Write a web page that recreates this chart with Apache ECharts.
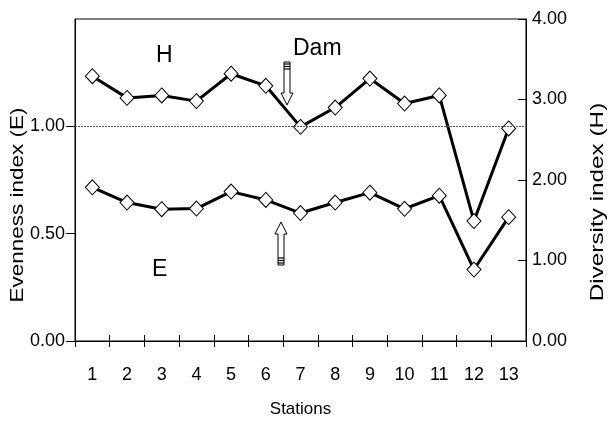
<!DOCTYPE html>
<html>
<head>
<meta charset="utf-8">
<script src="https://cdn.jsdelivr.net/npm/echarts@6/dist/echarts.min.js"></script>
<style>
	html, body { margin: 0; padding: 0; background: #fff; }
	#charts1 { width: 614px; height: 423px; }
</style>
</head>
<body>
<div id="charts1"></div>
<script>
	// stations along the river
	var stations = ['1', '2', '3', '4', '5', '6', '7', '8', '9', '10', '11', '12', '13'];
	// Shannon diversity index (right axis)
	var diversityH = [3.29, 3.02, 3.05, 2.98, 3.32, 3.17, 2.66, 2.90, 3.26, 2.95, 3.05, 1.49, 2.64];
	// evenness index (left axis)
	var evennessE = [0.716, 0.645, 0.614, 0.617, 0.696, 0.657, 0.596, 0.645, 0.691, 0.616, 0.677, 0.333, 0.577];
	var leftTicks = [0, 0.5, 1];
	var rightTicks = [0, 1, 2, 3, 4];

	var font = '"Liberation Sans", Arial, sans-serif';

	// hollow arrow outline, tip down (or up)
	function arrowPath(cx, top, bottom, up) {
		var s = 3, h = 6, head = 12;
		if (!up) {
			return [[cx - s, top], [cx + s, top], [cx + s, bottom - head], [cx + h, bottom - head],
				[cx, bottom], [cx - h, bottom - head], [cx - s, bottom - head]];
		}
		return [[cx - s, bottom], [cx + s, bottom], [cx + s, top + head], [cx + h, top + head],
			[cx, top], [cx - h, top + head], [cx - s, top + head]];
	}

	function stripes(cx, y0, dir) {
		var out = [];
		for (var i = 0; i < 3; i++) {
			var y = y0 + dir * i * 2.5;
			out.push({
				type: 'line', silent: true,
				shape: {x1: cx - 3, y1: y, x2: cx + 3, y2: y},
				style: {stroke: '#000', lineWidth: 1.2}
			});
		}
		return out;
	}

	var charts1 = echarts.init(document.getElementById('charts1'));

	var graphics = [
		{type: 'text', left: 156, top: 44, style: {text: 'H', font: '23px ' + font, fill: '#000'}},
		{type: 'text', left: 293, top: 37, style: {text: 'Dam', font: '23px ' + font, fill: '#000'}},
		{type: 'text', left: 152, top: 258, style: {text: 'E', font: '23px ' + font, fill: '#000'}},
		{type: 'polygon', silent: true, shape: {points: arrowPath(287, 62, 105, false)},
			style: {fill: '#fff', stroke: '#000', lineWidth: 1}},
		{type: 'polygon', silent: true, shape: {points: arrowPath(281, 222, 265, true)},
			style: {fill: '#fff', stroke: '#000', lineWidth: 1}},
		// axis titles, stretched along their length like the scanned figure
		{type: 'text', x: 18, y: 205, rotation: Math.PI / 2, scaleX: 1.25,
			style: {text: 'Evenness index (E)', font: '18px ' + font, fill: '#000', align: 'center', verticalAlign: 'middle'}},
		{type: 'text', x: 598, y: 202, rotation: Math.PI / 2, scaleX: 1.35,
			style: {text: 'Diversity index (H)', font: '18px ' + font, fill: '#000', align: 'center', verticalAlign: 'middle'}}
	];
	graphics = graphics.concat(stripes(287, 64, 1)).concat(stripes(281, 263, -1));

	var option = {
		animation: false,
		backgroundColor: '#fff',
		textStyle: {fontFamily: font},
		grid: {left: 75, right: 88, top: 19, bottom: 81, show: true, borderColor: '#000', borderWidth: 1},
		xAxis: [{
			type: 'category',
			data: stations,
			position: 'bottom',
			name: 'Stations',
			nameLocation: 'middle',
			nameGap: 60,
			nameTextStyle: {fontSize: 17, color: '#000', fontFamily: font},
			axisLine: {lineStyle: {color: '#000', width: 1}},
			axisTick: {show: true, length: 6, lineStyle: {color: '#000'}},
			axisLabel: {fontSize: 18, color: '#000', margin: 25, fontFamily: font},
			splitLine: {show: false}
		}, {
			type: 'category',
			data: stations,
			position: 'bottom',
			offset: 0,
			axisLine: {show: false},
			axisTick: {show: true, inside: true, length: 6, lineStyle: {color: '#000'}},
			axisLabel: {show: false},
			splitLine: {show: false}
		}],
		yAxis: [{
			type: 'value',
			position: 'left',
			min: 0,
			max: 1.5,
			interval: 0.5,
			axisLine: {show: true, lineStyle: {color: '#000'}},
			axisTick: {show: true, length: 9, customValues: leftTicks, lineStyle: {color: '#000'}},
			axisLabel: {
				fontSize: 18, color: '#000', margin: 10, fontFamily: font,
				customValues: leftTicks,
				formatter: function (v) { return v.toFixed(2); }
			},
			splitLine: {show: false}
		}, {
			type: 'value',
			position: 'right',
			min: 0,
			max: 4,
			interval: 1,
			axisLine: {show: true, lineStyle: {color: '#000'}},
			axisTick: {show: true, inside: true, length: 8, customValues: rightTicks, lineStyle: {color: '#000'}},
			axisLabel: {
				fontSize: 18, color: '#000', margin: 6, fontFamily: font,
				formatter: function (v) { return v.toFixed(2); }
			},
			splitLine: {show: false}
		}],
		series: [{
			name: 'H',
			type: 'line',
			yAxisIndex: 1,
			data: diversityH,
			symbol: 'diamond',
			symbolSize: [14, 15],
			showAllSymbol: true,
			lineStyle: {color: '#000', width: 3},
			itemStyle: {color: '#fff', borderColor: '#000', borderWidth: 1},
			z: 3
		}, {
			name: 'E',
			type: 'line',
			yAxisIndex: 0,
			data: evennessE,
			symbol: 'diamond',
			symbolSize: [14, 15],
			showAllSymbol: true,
			lineStyle: {color: '#000', width: 3},
			itemStyle: {color: '#fff', borderColor: '#000', borderWidth: 1},
			z: 3,
			markLine: {
				silent: true,
				symbol: 'none',
				label: {show: false},
				lineStyle: {color: '#555', type: [2, 1], width: 1},
				data: [{yAxis: 1}]
			}
		}],
		graphic: graphics
	};
	charts1.setOption(option);

	window.onresize = function () {
		charts1.resize();
	};
</script>
</body>
</html>
